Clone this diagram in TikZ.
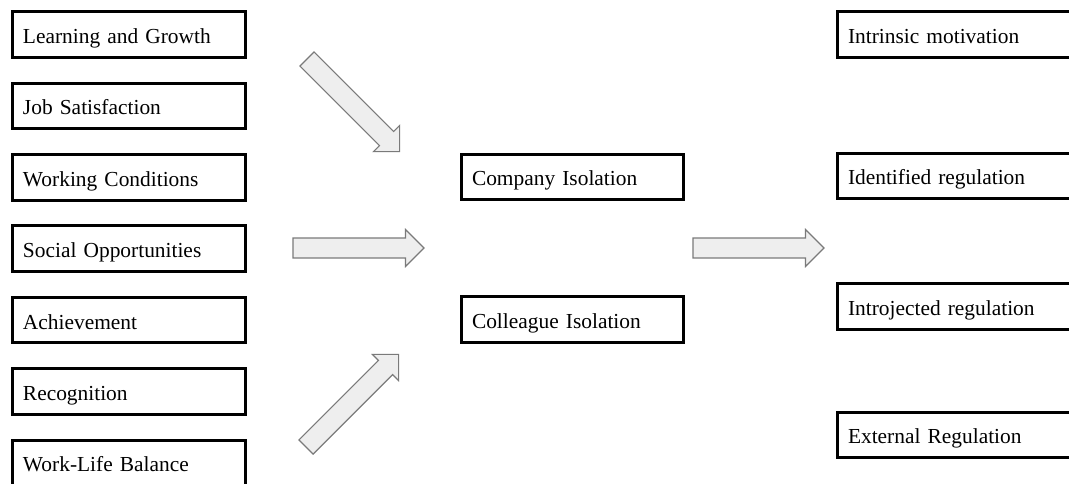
\documentclass[tikz,border=0pt]{standalone}
\usepackage{fontspec}
\setmainfont{Liberation Serif}
\usetikzlibrary{positioning}

\definecolor{arrowfill}{HTML}{EEEEEE}
\definecolor{arrowline}{HTML}{7A7A7A}

\begin{document}
\begin{tikzpicture}[
      x=1pt, y=-1pt,
      node distance=25.9pt,
      font=\fontsize{21.4}{25}\selectfont,
      box/.style={draw, line width=3pt, outer sep=0pt, inner xsep=11pt, inner ysep=2pt, minimum height=45.5pt, text width=#1, align=left, text height=20pt, text depth=2pt},
      arrowbody/.style={draw=arrowline, fill=arrowfill, line width=1.2pt, line join=miter},
      fatarrow/.pic={\draw[arrowbody] (0,-10) -- (112.5,-10) -- (112.5,-18.5) -- (131,0) -- (112.5,18.5) -- (112.5,10) -- (0,10) -- cycle;}
    ]
      \useasboundingbox (0,0) rectangle (1069,483);
      \clip (0,0) rectangle (1069,483);
      % factors
      \node[box=211pt, anchor=north west] (learn) at (12,11.7) {Learning and Growth};
      \node[box=211pt, below=of learn] (job) {Job Satisfaction};
      \node[box=211pt, below=of job] (work) {Working Conditions};
      \node[box=211pt, below=of work] (social) {Social Opportunities};
      \node[box=211pt, below=of social] (achieve) {Achievement};
      \node[box=211pt, below=of achieve] (recog) {Recognition};
      \node[box=211pt, below=of recog] (balance) {Work-Life Balance};
      % isolation
      \node[box=200pt, anchor=north west] (company) at (461,154) {Company Isolation};
      \node[box=200pt, below=97pt of company] (colleague) {Colleague Isolation};
      % motivation
      \node[box=213pt, anchor=north west] (intrinsic) at (837,11.7) {Intrinsic motivation};
      \node[box=213pt, below=96pt of intrinsic] (identified) {Identified regulation};
      \node[box=213pt, below=85pt of identified] (introjected) {Introjected regulation};
      \node[box=213pt, below=83pt of introjected] (external) {External Regulation};
      % block arrows
      \pic[rotate=-45] at (307,59) {fatarrow};
      \pic at (293,248) {fatarrow};
      \pic[rotate=45] at (306,447) {fatarrow};
      \pic at (693,248) {fatarrow};
    \end{tikzpicture}
\end{document}
